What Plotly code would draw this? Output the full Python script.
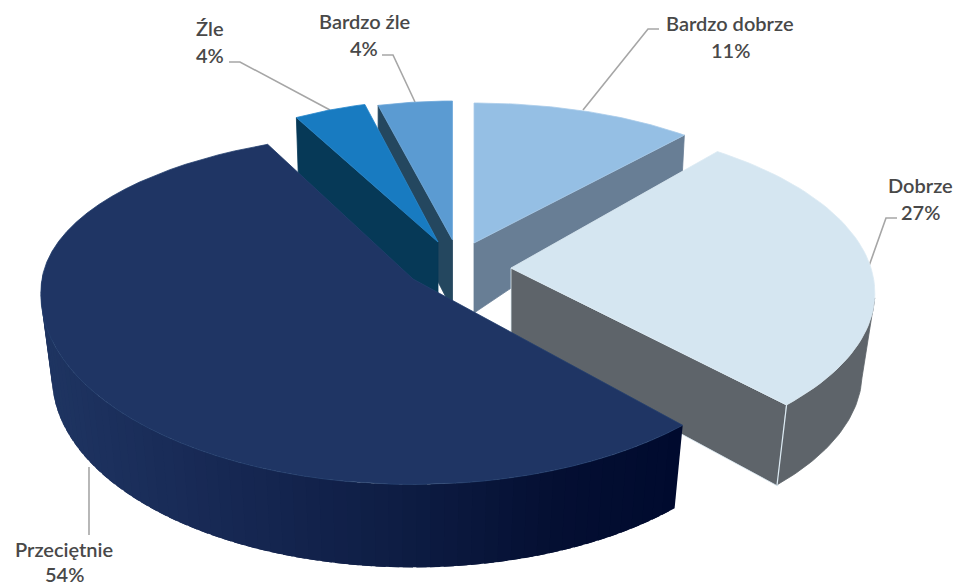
import numpy as np
import plotly.graph_objects as go

# ---- data ----
categories = ["Bardzo dobrze", "Dobrze", "Przeciętnie", "Źle", "Bardzo źle"]
values = [11, 27, 54, 4, 4]

# ---- styles ----
top_colors = ["#95BFE4", "#D5E6F1", "#1F3564", "#187BC1", "#5B9BD2"]
edge_colors = ["#A9CCEA", "#DDEBF4", "#25406F", "#2A88CC", "#6FA8DA"]
face_colors = ["#687E95", "#5E646A", "#000A2E", "#063957", "#24475F"]
text_color = "#484848"
leader_color = "#A6A6A6"

# ---- projection of each exploded slice: apex x, apex y, half width, half depth, perspective m, h
projection = [
    (474, 243, 330, 140, 0.0, 0.0),
    (511, 268, 360, 168, 0.145, 0.0),
    (413, 279, 371, 189, 0.08, 0.208),
    (438, 242, 294, 142, 0.0, 0.0),
    (452.5, 240, 299, 139, 0.0, 0.0),
]

# ---- label placement ----
label_pos = [(730, 23, 50), (920, 185, 212), (64, 549, 574), (210, 28, 55), (364, 21, 48)]
leaders = [
    ([583, 648, 659], [110, 29, 29]),
    ([869, 886, 897], [266, 218, 218]),
    ([89, 89], [467, 535]),
    ([330, 240, 229], [110, 62, 62]),
    ([415, 393, 382], [102, 55, 55]),
]

edges = np.cumsum([0] + values) / sum(values) * 360.0


def rim(i, theta):
    ax, ay, a, b, m, h = projection[i]
    t = np.radians(theta)
    c = np.cos(t)
    s = 1.0 / (1.0 + m * c + h * np.maximum(c, 0) ** 2)
    return ax + a * np.sin(t) * s, ay - b * c * s


def arc(i, t0, t1, n=60):
    return rim(i, np.linspace(t0, t1, n))


def poly(fig, xs, ys, fill, line=None, width=0.8):
    fig.add_trace(go.Scatter(
        x=list(xs) + [xs[0]], y=list(ys) + [ys[0]], mode="lines", fill="toself",
        fillcolor=fill, line=dict(color=line or fill, width=width),
        hoverinfo="skip", showlegend=False))


def top(fig, i):
    x, y = arc(i, edges[i], edges[i + 1])
    ax, ay = projection[i][:2]
    poly(fig, [ax] + list(x), [ay] + list(y), top_colors[i], edge_colors[i])


def radial_face(fig, i, theta, h_apex, h_rim, shift=0.0):
    ax, ay = projection[i][:2]
    x, y = rim(i, theta)
    poly(fig, [ax, float(x), float(x) + shift, ax], [ay, float(y), float(y) + h_rim, ay + h_apex],
         face_colors[i], edge_colors[i] if i == 1 else None)


def rim_wall_points(i, t, xscale, h):
    ax = projection[i][0]
    x, y = rim(i, t)
    return x, y, ax + (x - ax) * xscale, y + h


def lerp_color(x, stops):
    xs = [p[0] for p in stops]
    chans = [np.interp(x, xs, [p[1][k] for p in stops]) for k in range(3)]
    return "rgb(%d,%d,%d)" % tuple(int(round(v)) for v in chans)


fig = go.Figure()

# leader lines
for lx, ly in leaders:
    fig.add_trace(go.Scatter(x=lx, y=ly, mode="lines", line=dict(color=leader_color, width=1.6),
                             hoverinfo="skip", showlegend=False))

# Bardzo dobrze
radial_face(fig, 0, edges[1], 70, 38, -2)
top(fig, 0)

# Dobrze
radial_face(fig, 1, edges[2], 74, 81, -9)
ts = np.linspace(100, edges[2], 40)
x0, y0, x1, y1 = rim_wall_points(1, ts, 0.965, 80)
poly(fig, list(x0) + list(x1[::-1]), list(y0) + list(y1[::-1]), face_colors[1])
cx0, cy0, cx1, cy1 = rim_wall_points(1, edges[2], 0.965, 81)
fig.add_trace(go.Scatter(x=[float(cx0), float(cx1)], y=[float(cy0), float(cy1)], mode="lines",
                         line=dict(color="#DDEBF4", width=1.2), hoverinfo="skip", showlegend=False))
top(fig, 1)

# Bardzo zle
radial_face(fig, 4, edges[4], 70, 60)
top(fig, 4)

# Zle
radial_face(fig, 3, edges[3], 65, 60, 2)
top(fig, 3)

# Przecietnie: shaded outer wall as overlapping strips
gradient = [(45, (31, 53, 98)), (200, (24, 42, 86)), (400, (14, 29, 68)),
            (560, (4, 15, 50)), (680, (0, 10, 46))]
ts = np.arange(272.0, edges[2], -2.0)
ts = np.append(ts, edges[2])
for t0, t1 in zip(ts[:-1], ts[1:]):
    t_back = min(t0 + 1.5, 272.0)
    a0, b0, c0, d0 = rim_wall_points(2, t_back, 0.97, 83)
    a1, b1, c1, d1 = rim_wall_points(2, t1, 0.97, 83)
    col = lerp_color((c0 + c1) / 2, gradient)
    poly(fig, [a0, a1, c1, c0], [b0, b1, d1, d0], col, col, 0)
top(fig, 2)

# labels
for name, val, (lx, ly1, ly2) in zip(categories, values, label_pos):
    for txt, yy in ((name, ly1), (f"{val}%", ly2)):
        fig.add_annotation(x=lx, y=yy, text=txt, showarrow=False, xanchor="center", yanchor="middle",
                           borderpad=0, font=dict(family="Lato", size=20, color=text_color, weight=600))

fig.update_layout(
    width=957, height=588, margin=dict(l=0, r=0, t=0, b=0),
    paper_bgcolor="white", plot_bgcolor="white", showlegend=False,
    xaxis=dict(range=[0, 957], visible=False, fixedrange=True),
    yaxis=dict(range=[588, 0], visible=False, fixedrange=True),
)
fig.write_html("out.html", config={"displayModeBar": False},
               post_script="document.body.style.margin='0';")
